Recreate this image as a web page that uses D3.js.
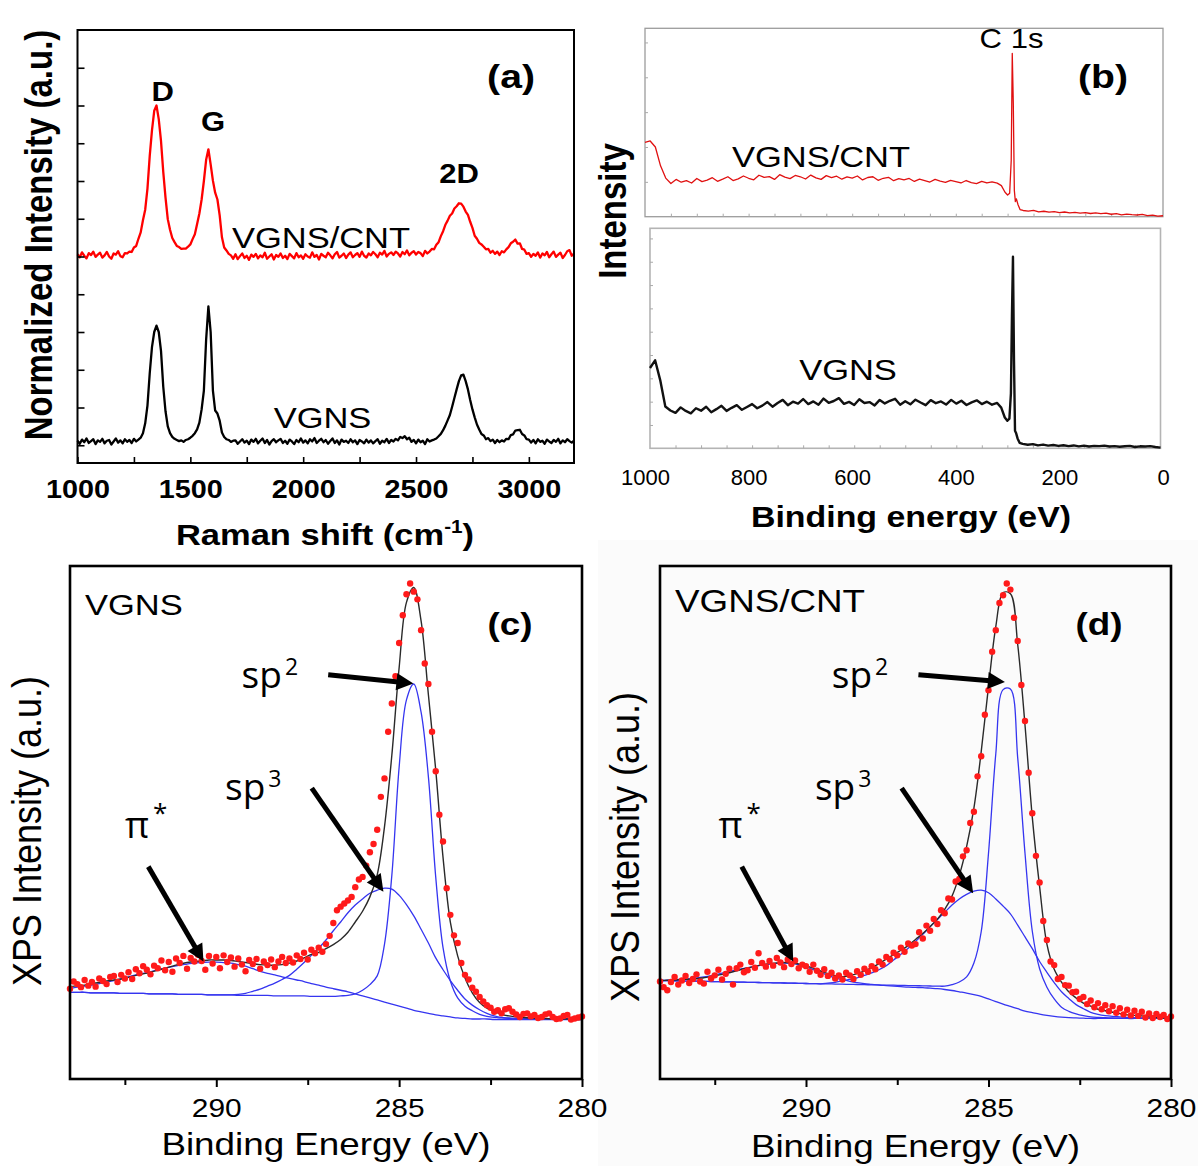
<!DOCTYPE html>
<html>
<head>
<meta charset="utf-8">
<script src="https://cdn.jsdelivr.net/npm/d3@7"></script>
<style>
  html, body { margin: 0; padding: 0; background: #fff; }
  svg { display: block; }
</style>
</head>
<body>
<svg id="fig" width="1198" height="1166"></svg>
<script>
// ===================== (a) Raman spectra =====================
// Intensity on a 1000–3200 cm-1 grid, 10 cm-1 apart (one row = 100 cm-1)
const ramanStart = 1000, ramanStep = 10;
const ramanTicks = [1000, 1500, 2000, 2500, 3000];
const ramanVGNSCNT = [
  5.06,4.98,5.11,5.02,4.95,5.09,5.04,5.13,4.99,5.05,
  5.10,4.97,5.03,5.12,5.00,4.94,5.08,5.05,5.14,5.01,
  4.98,5.09,5.08,5.13,5.12,5.24,5.28,5.47,5.64,5.96,
  6.24,6.80,7.66,8.34,8.86,9.00,8.64,8.06,7.24,6.56,
  5.99,5.71,5.49,5.38,5.28,5.25,5.20,5.21,5.21,5.26,
  5.32,5.46,5.59,5.86,6.14,6.51,7.00,7.56,7.84,7.44,
  7.01,6.69,6.51,6.09,5.51,5.24,5.16,5.07,5.03,4.94,
  5.06,4.93,5.01,5.08,4.96,5.02,4.91,5.05,4.99,5.07,
  4.95,5.03,4.98,5.10,4.94,5.00,5.06,4.92,5.04,4.99,
  5.08,4.96,5.02,4.93,5.07,5.01,4.95,5.09,4.98,5.03,
  4.94,5.06,5.00,4.97,5.11,4.99,5.04,4.92,5.07,5.02,
  4.98,5.10,5.03,4.95,5.06,5.12,4.97,5.02,5.08,4.96,
  5.05,5.11,4.98,5.04,5.09,4.99,5.13,5.02,4.97,5.08,
  5.03,5.12,5.06,4.98,5.10,5.05,5.15,5.00,5.07,5.11,
  5.04,5.13,5.08,5.00,5.12,5.06,5.16,5.03,5.10,5.14,
  5.05,5.12,5.09,5.01,5.15,5.08,5.13,5.20,5.19,5.31,
  5.38,5.54,5.67,5.84,5.95,6.08,6.14,6.27,6.33,6.41,
  6.40,6.32,6.19,6.10,5.92,5.76,5.55,5.47,5.36,5.32,
  5.26,5.19,5.20,5.10,5.15,5.07,5.13,5.04,5.14,5.11,
  5.19,5.25,5.35,5.39,5.45,5.34,5.35,5.20,5.18,5.07,
  5.09,4.99,5.07,5.02,5.11,4.97,5.08,5.03,5.12,4.98,
  5.06,5.13,4.99,5.05,5.10,4.96,5.04,5.14,5.17,5.02,
  5.08
];
const ramanVGNS = [
  0.12,0.04,0.15,0.08,0.18,0.06,0.11,0.16,0.03,0.13,
  0.09,0.17,0.05,0.12,0.14,0.02,0.10,0.18,0.07,0.13,
  0.05,0.16,0.09,0.14,0.06,0.17,0.10,0.15,0.20,0.32,
  0.58,1.05,1.90,2.60,3.00,3.17,3.00,2.50,1.55,0.90,
  0.50,0.32,0.22,0.17,0.14,0.11,0.13,0.09,0.14,0.16,
  0.20,0.25,0.32,0.42,0.60,0.95,1.45,2.80,3.68,3.00,
  1.45,0.92,0.84,0.65,0.34,0.22,0.16,0.14,0.09,0.12,
  0.13,0.04,0.10,0.16,0.07,0.12,0.03,0.15,0.09,0.17,
  0.05,0.12,0.18,0.06,0.14,0.02,0.11,0.16,0.08,0.13,
  0.17,0.06,0.12,0.04,0.15,0.10,0.03,0.14,0.08,0.18,
  0.07,0.13,0.05,0.16,0.10,0.19,0.06,0.12,0.17,0.08,
  0.14,0.04,0.11,0.18,0.06,0.13,0.02,0.15,0.09,0.12,
  0.06,0.16,0.08,0.13,0.03,0.14,0.10,0.05,0.15,0.07,
  0.13,0.05,0.11,0.16,0.04,0.12,0.08,0.17,0.06,0.14,
  0.10,0.17,0.13,0.22,0.19,0.24,0.16,0.20,0.09,0.14,
  0.05,0.15,0.08,0.12,0.03,0.16,0.10,0.13,0.15,0.18,
  0.24,0.30,0.40,0.52,0.66,0.80,1.02,1.25,1.48,1.70,
  1.85,1.87,1.70,1.48,1.20,0.95,0.74,0.55,0.42,0.30,
  0.26,0.16,0.19,0.11,0.15,0.06,0.14,0.08,0.13,0.10,
  0.17,0.16,0.27,0.29,0.39,0.40,0.41,0.30,0.26,0.16,
  0.15,0.07,0.14,0.05,0.16,0.09,0.12,0.04,0.15,0.10,
  0.06,0.14,0.09,0.17,0.05,0.13,0.08,0.16,0.11,0.07,
  0.12
];

// ===================== (b) XPS survey =====================
const surveyEnergy = [
  ...d3.range(1000, 319, -10),
  312, 305, 300, 296, 293, 291, 289, 287, 285, 283, 280, 276, 270,
  ...d3.range(260, -1, -10)
];
const surveyTicks = [1000, 800, 600, 400, 200, 0];
const surveyVGNSCNT = [
  39.5,40.2,37.0,27.0,20.5,17.6,19.8,18.3,19.1,17.9,
  20.3,18.6,19.4,20.7,18.8,19.9,21.2,19.2,20.1,21.6,
  20.4,19.6,22.0,20.9,21.3,19.8,22.3,21.0,20.2,21.9,
  21.2,20.0,22.1,20.6,19.8,21.8,20.7,21.5,19.9,21.1,
  20.5,21.6,19.5,20.8,21.2,19.3,20.4,20.9,19.1,20.2,
  19.6,20.3,18.7,19.9,19.2,18.4,19.8,18.9,18.2,19.3,
  18.6,17.9,19.2,18.1,17.6,18.8,17.9,18.5,17.8,
  16.5,13.0,11.5,12.5,30.0,86.7,60.0,14.0,8.0,9.5,6.5,3.8,3.3,
  3.0,3.4,2.6,2.9,2.4,2.7,2.2,2.5,2.0,2.3,
  1.9,2.2,1.7,2.0,1.6,1.9,1.3,1.6,1.0,1.4,
  1.1,0.9,1.2,0.6,0.8,0.3,0.5
];
const surveyVGNS = [
  36.5,40.0,31.0,19.0,17.2,16.1,18.6,17.0,15.9,18.2,
  17.1,18.9,16.4,17.8,19.3,17.0,18.4,19.6,17.5,18.8,
  20.1,18.2,19.4,21.0,18.9,20.6,22.0,19.6,21.2,20.3,
  22.4,20.1,21.3,19.8,22.6,20.7,21.5,22.8,20.2,21.1,
  19.7,22.3,20.6,21.0,19.5,22.0,20.4,21.6,22.5,19.8,
  21.4,20.0,22.1,20.8,19.6,21.9,20.5,21.3,19.9,22.0,
  20.3,21.6,19.7,20.9,21.8,20.1,21.2,19.8,20.6,
  18.5,14.0,12.5,13.5,25.0,60.0,87.1,40.0,8.0,7.0,4.5,2.5,2.0,
  1.6,1.9,1.3,1.7,1.2,1.5,1.1,1.4,1.0,1.3,
  0.9,1.2,0.8,1.1,1.0,1.2,0.8,1.0,0.7,0.9,
  1.1,0.6,0.9,0.8,1.0,0.6,0.3
];

// ===================== (c), (d) C 1s core level =====================
// Fitted curves on a 294 → 280 eV grid, 0.2 eV apart; measured points 0.1 eV apart
const fitEnergy = d3.range(71).map(i => 294 - 0.2 * i);
const dotEnergy = d3.range(141).map(i => 294 - 0.1 * i);
const c1sTicks = [290, 285, 280];

const vgnsFit = [
  18.0,18.2,18.3,18.6,18.8,19.1,19.3,19.5,19.8,20.2,
  20.5,20.8,21.2,21.6,22.0,22.4,22.7,22.9,23.0,23.2,
  23.2,23.2,23.1,22.9,22.7,22.5,22.3,22.2,22.2,22.3,
  22.6,23.0,23.6,24.3,24.7,25.4,26.2,27.2,28.6,30.6,
  32.7,35.5,39.8,49.2,63.1,80.2,92.9,95.8,89.3,74.9,
  60.3,43.2,30.6,24.0,19.7,16.8,14.9,13.8,13.2,12.6,
  12.3,12.1,12.0,11.9,11.8,11.8,11.7,11.7,11.7,11.6,
  11.6
];
const vgnsSp2 = [
  16.9,16.9,16.9,16.8,16.8,16.8,16.8,16.7,16.7,16.7,
  16.7,16.6,16.6,16.6,16.6,16.5,16.5,16.5,16.5,16.4,
  16.4,16.4,16.4,16.3,16.3,16.3,16.3,16.3,16.2,16.2,
  16.2,16.2,16.2,16.1,16.1,16.1,16.1,16.2,16.3,16.6,
  17.3,18.4,20.1,26.3,39.7,60.8,73.9,77.0,71.5,58.9,
  39.4,25.6,19.1,15.8,14.2,13.3,12.6,12.2,12.0,11.9,
  11.8,11.7,11.7,11.7,11.7,11.7,11.7,11.7,11.7,11.7,
  11.7
];
const vgnsSp3 = [
  16.9,16.9,16.9,16.8,16.8,16.8,16.8,16.7,16.7,16.7,
  16.7,16.6,16.6,16.6,16.6,16.5,16.5,16.5,16.5,16.4,
  16.4,16.4,16.4,16.5,16.7,17.1,17.5,18.1,18.7,19.4,
  20.2,21.4,22.7,24.1,25.5,27.1,28.9,30.6,32.4,33.9,
  35.1,36.2,36.8,37.2,37.0,35.8,34.0,31.8,29.2,26.5,
  23.6,21.3,19.2,17.3,15.6,14.4,13.5,12.8,12.3,12.0,
  11.9,11.8,11.7,11.7,11.7,11.7,11.7,11.7,11.7,11.7,
  11.7
];
const vgnsPi = [
  17.6,17.9,18.1,18.3,18.6,18.9,19.2,19.5,19.9,20.3,
  20.6,20.9,21.3,21.6,21.9,22.2,22.4,22.6,22.7,22.8,
  22.8,22.7,22.6,22.3,22.0,21.5,21.0,20.6,20.3,19.9,
  19.6,19.3,19.0,18.6,18.3,17.9,17.6,17.3,17.0,16.6,
  16.2,15.8,15.4,15.0,14.6,14.2,13.8,13.4,13.1,12.8,
  12.5,12.3,12.1,11.9,11.8,11.7,11.7,11.7,11.6,11.6,
  11.6,11.6,11.6,11.6,11.6,11.6,11.6,11.6,11.6,11.6,
  11.6
];
const vgnsDots = [
  17.6,19.0,18.5,17.9,19.3,18.2,18.9,18.0,19.6,19.1,
  18.5,19.9,20.1,18.9,20.3,19.6,20.8,19.5,21.4,20.6,
  22.0,21.3,20.4,22.1,21.6,23.1,21.2,22.8,20.9,23.5,
  22.6,24.0,21.5,23.6,22.9,24.2,23.0,21.3,24.0,22.5,
  23.8,21.6,24.1,22.8,23.7,21.9,23.5,22.3,21.0,23.2,
  22.4,23.4,21.5,22.9,22.2,23.3,21.8,22.9,23.8,22.6,
  23.5,22.7,24.1,23.4,24.6,23.3,25.2,24.5,25.6,24.8,
  26.3,27.9,30.4,32.9,33.6,34.2,34.8,35.5,37.4,38.9,
  39.4,41.6,44.2,45.8,48.6,55.0,58.6,67.7,73.2,78.5,
  85.0,90.4,94.5,96.6,95.0,93.5,87.5,81.0,77.0,67.7,
  60.0,51.5,46.3,37.2,32.0,28.0,26.5,22.6,20.3,19.4,
  17.8,17.0,16.0,15.1,14.4,13.9,13.1,13.4,12.8,13.6,
  13.8,13.1,12.6,12.1,12.7,12.8,12.2,12.5,11.9,12.1,
  12.6,12.8,12.1,11.7,11.8,12.3,12.5,11.6,11.8,12.0,
  12.2
];

const cntFit = [
  19.2,19.25,19.3,19.4,19.45,19.55,19.75,19.95,20.25,20.55,
  20.9,21.3,21.65,21.95,22.3,22.5,22.6,22.7,22.6,22.45,
  22.05,21.6,21.05,20.55,20.15,19.95,20.2,20.55,21.05,21.7,
  22.5,23.35,24.25,25.1,26.0,27.2,28.35,29.7,31.15,33.05,
  35.65,39.7,45.3,52.8,63.8,76.5,88.2,94.8,94.6,84.7,
  69.0,51.0,37.5,26.3,21.4,18.9,17.0,15.8,14.8,14.2,
  13.6,13.3,13.0,12.75,12.5,12.4,12.3,12.1,12.0,11.9,
  11.8
];
const cntSp2 = [
  19.2,19.17,19.14,19.11,19.08,19.06,19.03,19.0,18.97,18.94,
  18.91,18.88,18.85,18.82,18.8,18.77,18.74,18.71,18.68,18.65,
  18.62,18.59,18.56,18.54,18.51,18.48,18.45,18.42,18.39,18.36,
  18.33,18.3,18.28,18.25,18.22,18.19,18.16,18.13,18.1,18.1,
  18.4,18.9,19.9,22.6,28.7,44.0,63.4,75.9,76.0,62.6,
  44.0,28.8,21.5,17.9,15.6,14.0,13.2,12.7,12.35,12.1,
  12.0,11.95,11.9,11.85,11.8,11.8,11.8,11.8,11.8,11.8,
  11.8
];
const cntSp3 = [
  19.2,19.17,19.14,19.11,19.08,19.06,19.03,19.0,18.97,18.94,
  18.91,18.88,18.85,18.82,18.8,18.77,18.74,18.71,18.68,18.65,
  18.62,18.59,18.56,18.7,18.85,19.15,19.4,19.7,20.2,20.7,
  21.3,22.1,23.2,24.3,25.5,26.8,28.2,29.7,31.1,32.5,
  33.9,35.1,36.0,36.6,36.8,36.3,35.1,33.7,32.2,30.0,
  27.7,25.4,22.9,20.8,18.8,17.0,15.7,14.5,13.7,13.0,
  12.6,12.35,12.2,12.1,12.0,11.95,11.9,11.85,11.8,11.8,
  11.8
];
const cntPi = [
  19.2,19.25,19.35,19.45,19.55,19.7,19.9,20.15,20.45,20.8,
  21.1,21.4,21.7,21.95,22.2,22.4,22.55,22.6,22.55,22.3,
  21.9,21.3,20.8,20.2,19.7,19.35,19.05,18.8,18.6,18.45,
  18.3,18.2,18.1,18.0,17.9,17.85,17.8,17.7,17.6,17.45,
  17.25,17.0,16.75,16.45,16.1,15.6,15.1,14.6,14.15,13.7,
  13.25,12.95,12.65,12.4,12.2,12.05,11.95,11.9,11.85,11.8,
  11.8,11.8,11.8,11.8,11.8,11.8,11.8,11.8,11.8,11.8,
  11.8
];
const cntDots = [
  19.0,17.9,17.3,18.9,19.9,18.4,19.2,20.1,18.7,19.5,
  20.4,19.0,18.6,20.9,19.6,20.2,21.3,19.4,20.5,21.5,
  18.4,21.6,22.3,20.8,21.2,22.8,21.7,24.5,22.6,21.9,
  23.0,22.1,23.6,22.7,21.8,23.3,22.4,23.1,21.6,22.3,
  22.0,20.9,22.3,21.1,20.3,21.4,20.1,20.7,19.6,20.2,
  19.4,20.7,20.2,19.5,21.0,20.3,21.5,20.9,22.0,21.4,
  22.9,22.3,23.8,23.3,24.6,24.1,25.6,24.8,26.4,26.0,
  26.3,28.6,27.4,29.9,28.9,31.2,30.2,32.9,32.3,35.2,
  35.0,38.5,39.0,43.4,44.6,49.9,52.1,59.0,62.9,71.0,
  75.8,83.3,87.5,92.8,94.3,96.6,95.4,89.9,85.4,76.8,
  69.8,59.7,51.8,43.5,38.3,30.8,27.1,22.9,22.2,19.5,
  19.9,18.3,18.2,16.9,17.0,15.6,16.0,14.6,15.3,14.0,
  14.8,13.6,14.4,13.2,14.2,12.9,13.8,12.6,13.5,12.4,
  13.3,12.3,13.1,12.0,12.8,11.9,12.7,12.1,12.5,11.7,
  12.2
];

// Component call-outs: arrow tip and tail in (eV, intensity)
const vgnsMarks = [
  { base: "sp", sup: "2", tip: [284.61, 77.1], tail: [286.94, 78.8] },
  { base: "sp", sup: "3", tip: [285.43, 36.5], tail: [287.39, 56.7] },
  { base: "π",  sup: "*", tip: [290.35, 22.9], tail: [291.86, 41.4] }
];
const cntMarks = [
  { base: "sp", sup: "2", tip: [284.55, 77.4], tail: [286.92, 78.8] },
  { base: "sp", sup: "3", tip: [285.42, 36.2], tail: [287.38, 56.7] },
  { base: "π",  sup: "*", tip: [290.35, 22.9], tail: [291.76, 41.4] }
];

// ===================== drawing =====================
const SX = 1.15;                       // horizontal text stretch of the figure
const SANS = "'Liberation Sans', Arial, Helvetica, sans-serif";
const HUMAN = "'Open Sans', 'Noto Sans', sans-serif";
const svg = d3.select("#fig");

svg.append("rect").attr("width", 1198).attr("height", 1166).attr("fill", "#fff");
svg.append("rect").attr("x", 598).attr("y", 540).attr("width", 600).attr("height", 626).attr("fill", "#fbfbfb");

function txt(g, x, y, s, o = {}) {
  return g.append("text")
    .attr("transform", `translate(${x},${y}) scale(${o.sx ?? SX},1)${o.rot ? ` rotate(${o.rot})` : ""}`)
    .attr("text-anchor", o.anchor || "middle")
    .style("font-family", o.font || SANS)
    .style("font-size", o.size + "px")
    .style("font-weight", o.bold ? "bold" : "normal")
    .attr("fill", o.fill || "#000")
    .text(s);
}

function arrow(g, x1, y1, x2, y2) {
  const dx = x2 - x1, dy = y2 - y1, L = Math.hypot(dx, dy);
  const ux = dx / L, uy = dy / L, head = 17, half = 8.5;
  const bx = x2 - ux * head, by = y2 - uy * head;
  g.append("line").attr("x1", x1).attr("y1", y1).attr("x2", bx + ux * 2).attr("y2", by + uy * 2)
    .attr("stroke", "#000").attr("stroke-width", 5);
  g.append("path")
    .attr("d", `M${x2},${y2}L${bx - uy * half},${by + ux * half}L${bx + uy * half},${by - ux * half}Z`)
    .attr("fill", "#000");
}

// ---------- panel (a) ----------
{
  const g = svg.append("g");
  const x = d3.scaleLinear().domain([1000, 3200]).range([77.5, 574]);
  const y = d3.scaleLinear().domain([-0.47, 11]).range([463, 30]);
  const line = d3.line().x((d, i) => x(ramanStart + i * ramanStep)).y(d => y(d));

  g.append("path").datum(ramanVGNSCNT).attr("d", line).attr("fill", "none")
    .attr("stroke", "#ff0000").attr("stroke-width", 2.3).attr("stroke-linejoin", "round");
  g.append("path").datum(ramanVGNS).attr("d", line).attr("fill", "none")
    .attr("stroke", "#000").attr("stroke-width", 2.3).attr("stroke-linejoin", "round");

  g.append("rect").attr("x", x(1000)).attr("y", y(11))
    .attr("width", x(3200) - x(1000)).attr("height", y(-0.47) - y(11))
    .attr("fill", "none").attr("stroke", "#000").attr("stroke-width", 2);

  const ax = g.append("g").attr("transform", `translate(0,${y(-0.47)})`)
    .call(d3.axisBottom(x).tickValues(d3.range(1000, 3201, 250)).tickSize(-6)
      .tickFormat(d => ramanTicks.includes(d) ? d : ""));
  ax.select(".domain").remove();
  ax.selectAll(".tick line").attr("stroke", "#000").attr("stroke-width", 1.6);
  ax.selectAll(".tick text").attr("y", 35).attr("dy", 0).attr("transform", `scale(${SX},1)`)
    .style("font-family", SANS).style("font-size", "25px").style("font-weight", "bold").attr("fill", "#000");

  const ay = g.append("g").attr("transform", `translate(${x(1000)},0)`)
    .call(d3.axisLeft(y).tickValues(d3.range(0, 11)).tickSize(-7).tickFormat(""));
  ay.select(".domain").remove();
  ay.selectAll(".tick line").attr("stroke", "#000").attr("stroke-width", 1.6);

  txt(g, 52, 235, "Normalized Intensity (a.u.)", { size: 33, bold: true, rot: -90 });
  const xt = txt(g, 325, 545, "Raman shift (cm", { size: 30, bold: true });
  xt.append("tspan").attr("dy", -12).style("font-size", "18px").text("-1");
  xt.append("tspan").attr("dy", 12).text(")");

  txt(g, 511, 88, "(a)", { size: 34, bold: true });
  txt(g, 162.7, 101, "D", { size: 27, bold: true });
  txt(g, 213, 131, "G", { size: 27, bold: true });
  txt(g, 459, 183, "2D", { size: 27, bold: true });
  txt(g, 321, 248, "VGNS/CNT", { size: 30 });
  txt(g, 322.5, 428, "VGNS", { size: 30 });
}

// ---------- panel (b) ----------
{
  const g = svg.append("g");
  const xt = d3.scaleLinear().domain([1000, 0]).range([645, 1163]);
  const yt = d3.scaleLinear().domain([0, 100]).range([216.7, 28.3]);
  const xb = d3.scaleLinear().domain([1000, 0]).range([650, 1160.5]);
  const yb = d3.scaleLinear().domain([0, 100]).range([448.3, 228.3]);

  function frame(x, y, ticksY, col, w) {
    g.append("rect").attr("x", x(1000)).attr("y", y(100))
      .attr("width", x(0) - x(1000)).attr("height", y(0) - y(100))
      .attr("fill", "none").attr("stroke", col).attr("stroke-width", w);
    const bx = g.append("g").attr("transform", `translate(0,${y(0)})`)
      .call(d3.axisBottom(x).tickValues(d3.range(950, 0, -50)).tickSize(-3).tickFormat(""));
    bx.select(".domain").remove();
    bx.selectAll(".tick line").attr("stroke", "#aaa");
    const ly = g.append("g").attr("transform", `translate(${x(1000)},0)`)
      .call(d3.axisLeft(y).tickValues(ticksY).tickSize(-3).tickFormat(""));
    ly.select(".domain").remove();
    ly.selectAll(".tick line").attr("stroke", "#aaa");
  }
  frame(xt, yt, [18.5, 37, 55.5, 74, 92.5], "#9c9c9c", 1.3);
  frame(xb, yb, d3.range(1, 10).map(k => 10.6 * k), "#b4b4b4", 1.6);

  g.append("path").datum(surveyVGNSCNT)
    .attr("d", d3.line().x((d, i) => xt(surveyEnergy[i])).y(d => yt(d)))
    .attr("fill", "none").attr("stroke", "#e01010").attr("stroke-width", 1.3).attr("stroke-linejoin", "round");
  g.append("path").datum(surveyVGNS)
    .attr("d", d3.line().x((d, i) => xb(surveyEnergy[i])).y(d => yb(d)))
    .attr("fill", "none").attr("stroke", "#111").attr("stroke-width", 2.4).attr("stroke-linejoin", "round");

  const ax = g.append("g").attr("transform", "translate(0,448)")
    .call(d3.axisBottom(xt).tickValues(surveyTicks).tickSize(0).tickFormat(d3.format("d")));
  ax.select(".domain").remove();
  ax.selectAll(".tick text").attr("y", 37).attr("dy", 0)
    .style("font-family", SANS).style("font-size", "22px").attr("fill", "#000");

  txt(g, 626, 211, "Intensity", { size: 33, bold: true, rot: -90 });
  txt(g, 911, 527, "Binding energy (eV)", { size: 29.5, bold: true });
  txt(g, 1011.5, 48, "C 1s", { size: 27 });
  txt(g, 1103, 88, "(b)", { size: 34, bold: true });
  txt(g, 821, 167, "VGNS/CNT", { size: 30 });
  txt(g, 848, 380, "VGNS", { size: 30 });
}

// ---------- panels (c), (d) ----------
function drawC1s(o) {
  const g = svg.append("g");
  const x = d3.scaleLinear().domain([294, 280]).range(o.xr);
  const y = d3.scaleLinear().domain([0, 100]).range([1079, 566]);
  const curve = d3.line().x((d, i) => x(fitEnergy[i])).y(d => y(d)).curve(d3.curveCatmullRom);

  [o.sp2, o.sp3, o.pi].forEach(s =>
    g.append("path").datum(s).attr("d", curve).attr("fill", "none")
      .attr("stroke", "#3535f0").attr("stroke-width", 1.3));
  g.append("path").datum(o.fit).attr("d", curve).attr("fill", "none")
    .attr("stroke", "#2a2a2a").attr("stroke-width", 1.4);

  g.selectAll("circle.pt").data(o.dots).join("circle").attr("class", "pt")
    .attr("cx", (d, i) => x(dotEnergy[i])).attr("cy", d => y(d))
    .attr("r", 3.2).attr("fill", "#ff1a1a");

  g.append("rect").attr("x", x(294)).attr("y", y(100))
    .attr("width", x(280) - x(294)).attr("height", y(0) - y(100))
    .attr("fill", "none").attr("stroke", "#000").attr("stroke-width", 2.6);

  const ax = g.append("g").attr("transform", `translate(0,${y(0)})`)
    .call(d3.axisBottom(x).tickValues([292.5, 290, 287.5, 285, 282.5, 280]).tickSize(8)
      .tickFormat(d => c1sTicks.includes(d) ? d : ""));
  ax.select(".domain").remove();
  ax.selectAll(".tick line").attr("stroke", "#000").attr("stroke-width", 2)
    .attr("y2", d => c1sTicks.includes(d) ? 8 : 6);
  ax.selectAll(".tick text").attr("y", 38).attr("dy", 0).attr("transform", `scale(${SX},1)`)
    .style("font-family", SANS).style("font-size", "26px").attr("fill", "#000");

  // call-outs
  const offsets = [[-86.6, 13], [-86.7, 11.7], [-23.3, -28.7]];
  o.marks.forEach((m, k) => {
    const tx = x(m.tail[0]), ty = y(m.tail[1]);
    arrow(g, tx, ty, x(m.tip[0]), y(m.tip[1]));
    const t = txt(g, tx + offsets[k][0], ty + offsets[k][1], m.base,
      { font: HUMAN, size: 37, anchor: "start", sx: 1 });
    if (m.sup === "*") {
      t.append("tspan").attr("dx", 4).attr("dy", -16).style("font-size", "26px").text(m.sup);
    } else {
      t.append("tspan").attr("dx", 3).attr("dy", -13).style("font-size", "23px").text(m.sup);
    }
  });

  txt(g, o.yTitleX, o.yTitleY, "XPS Intensity (a.u.)", { size: 36, rot: -90 });
  txt(g, (o.xr[0] + o.xr[1]) / 2, o.xTitleY, "Binding Energy (eV)", { size: 32 });
  txt(g, o.xr[0] + 15, o.sampleY, o.sample, { size: o.sampleSize, anchor: "start" });
  txt(g, o.xr[1] - 72, 635, o.tag, { size: 32, bold: true });
}

drawC1s({
  xr: [70, 582], fit: vgnsFit, sp2: vgnsSp2, sp3: vgnsSp3, pi: vgnsPi, dots: vgnsDots,
  marks: vgnsMarks, sample: "VGNS", sampleY: 615, sampleSize: 30, tag: "(c)",
  yTitleX: 41, yTitleY: 831, xTitleY: 1155
});
drawC1s({
  xr: [660, 1171], fit: cntFit, sp2: cntSp2, sp3: cntSp3, pi: cntPi, dots: cntDots,
  marks: cntMarks, sample: "VGNS/CNT", sampleY: 612, sampleSize: 32, tag: "(d)",
  yTitleX: 639, yTitleY: 847, xTitleY: 1157
});
</script>
</body>
</html>
